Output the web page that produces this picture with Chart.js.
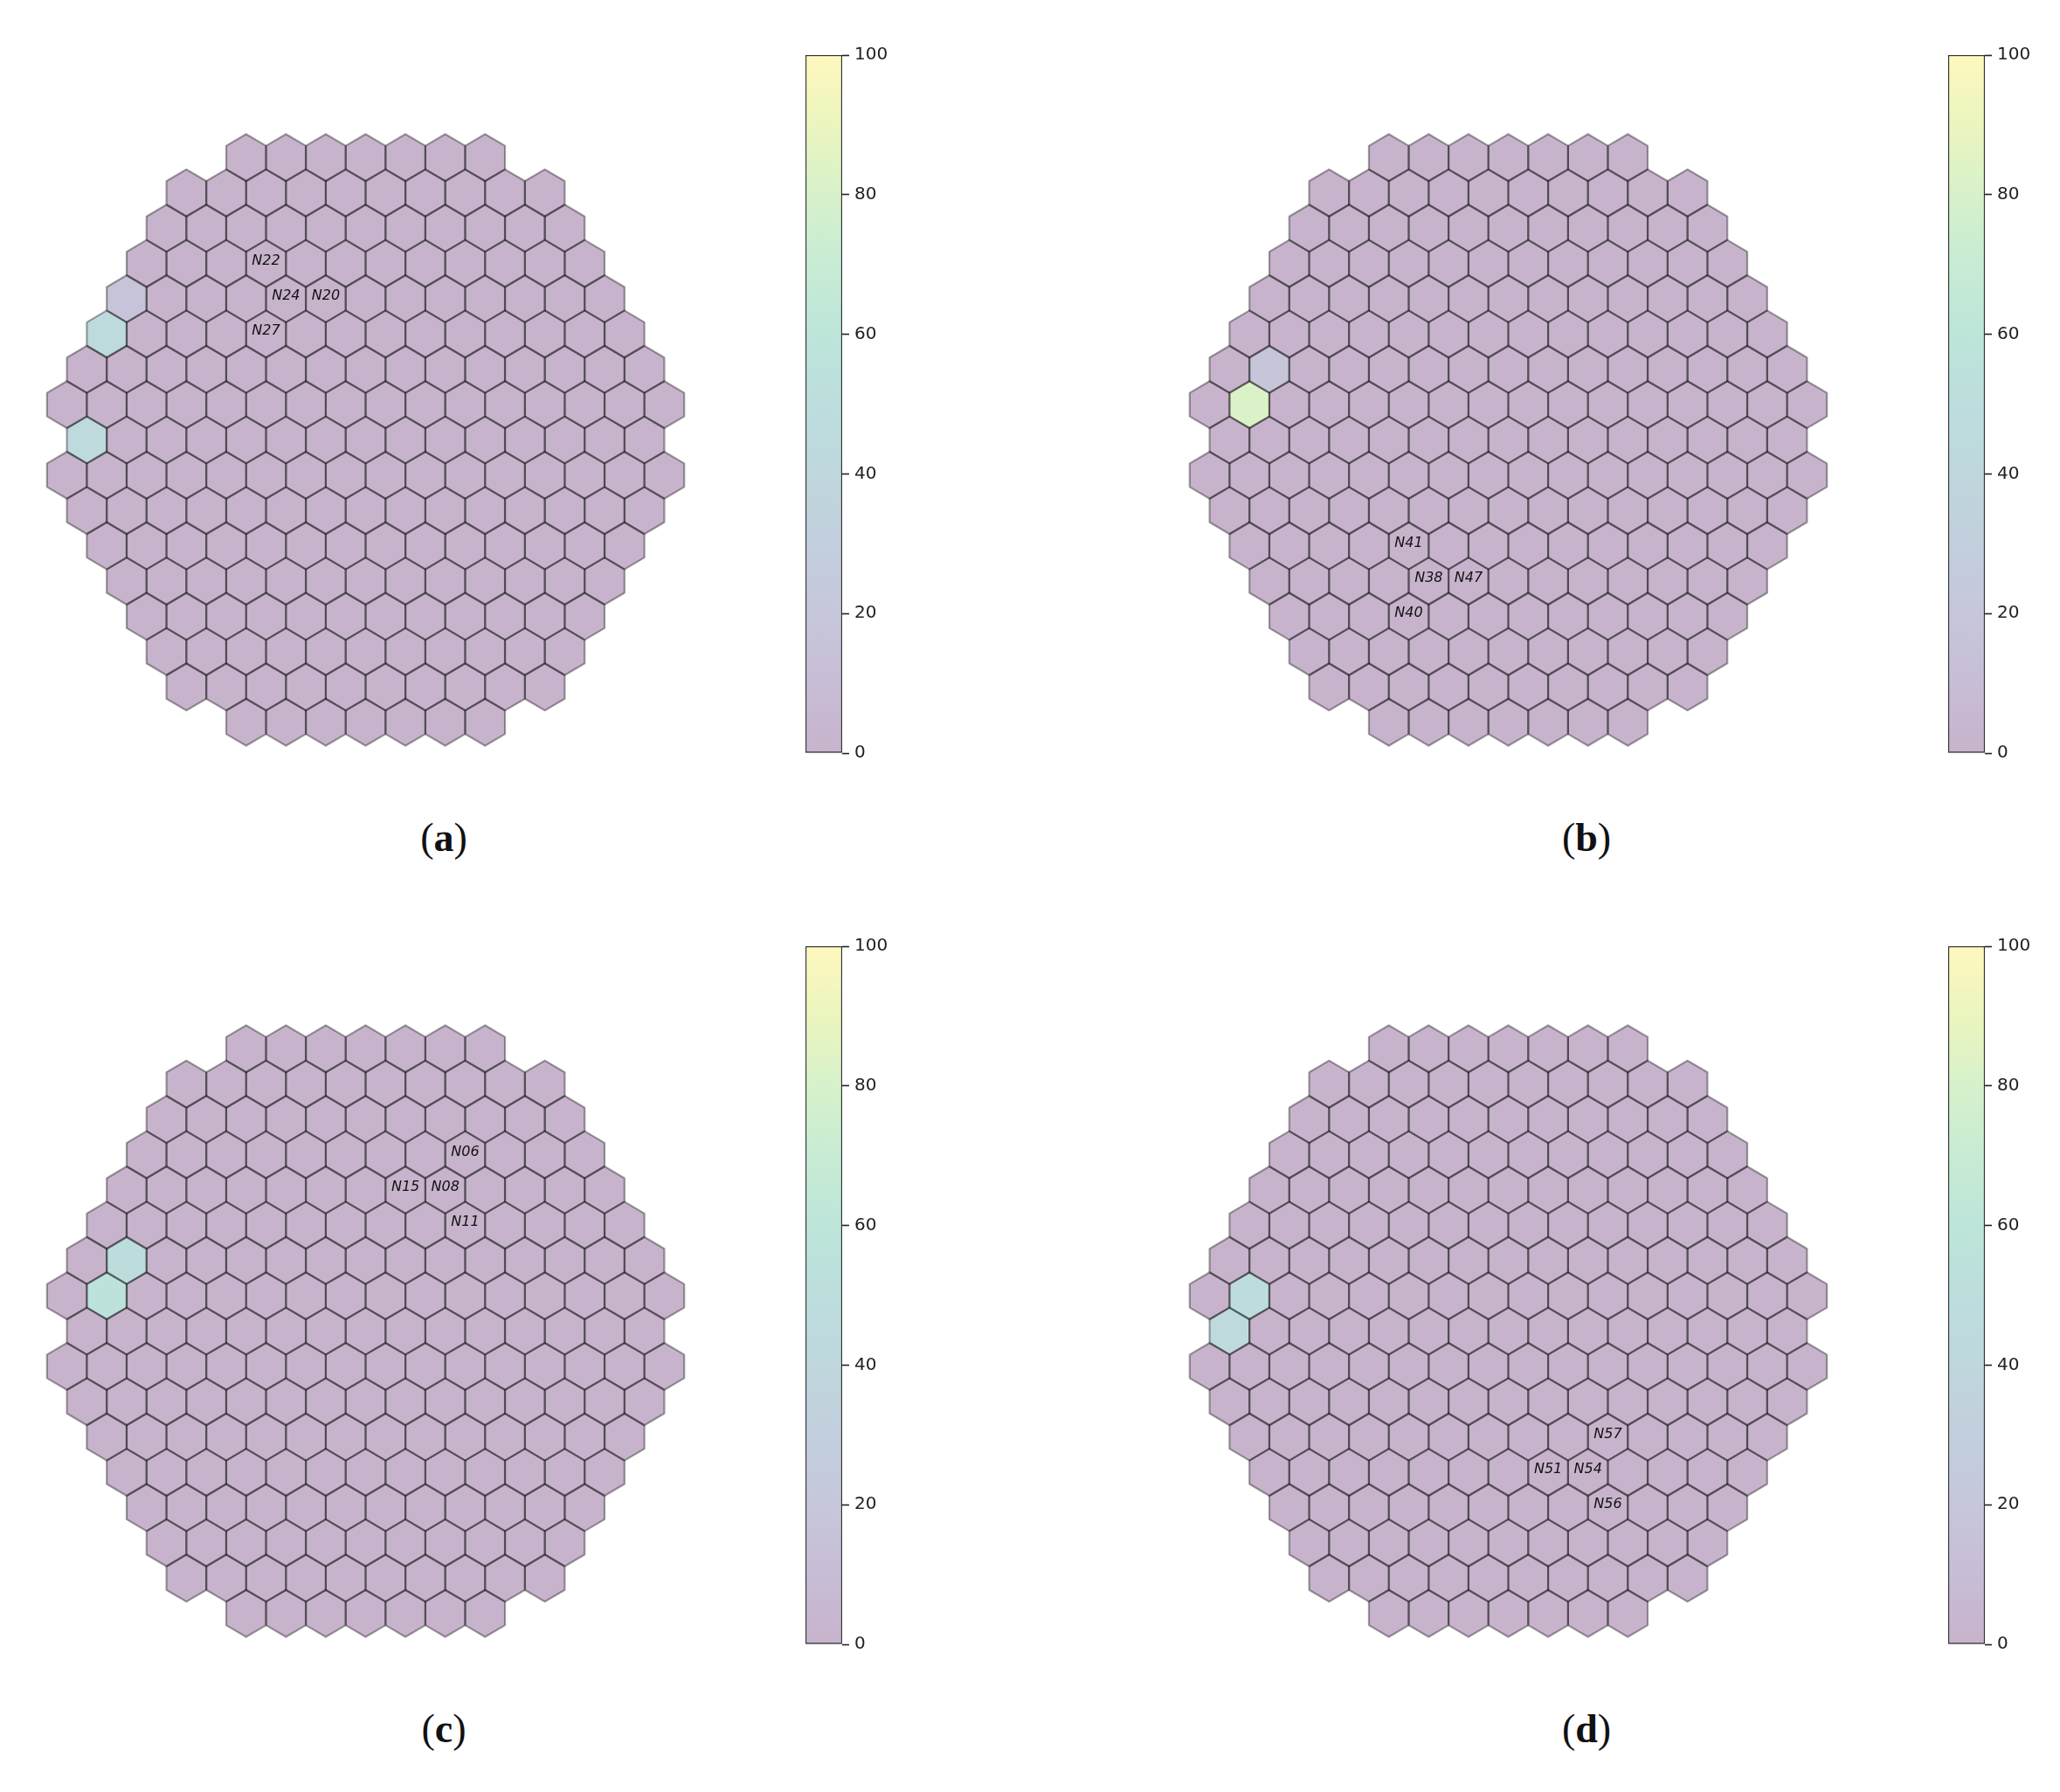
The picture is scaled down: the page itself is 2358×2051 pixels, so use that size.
<!DOCTYPE html>
<html>
<head>
<meta charset="utf-8">
<script src="https://cdn.jsdelivr.net/npm/chart.js@4.4.0/dist/chart.umd.min.js"></script>
<style>
  body { margin: 0; background: #fff; }
  #page { position: relative; width: 2358px; height: 2051px; background: #fff; overflow: hidden; }
  canvas { position: absolute; }
  .cap { position: absolute; width: 200px; margin-left: -100px; text-align: center;
         font-family: "Liberation Serif", "DejaVu Serif", serif; font-size: 46px; line-height: 50px; color: #111; }
</style>
</head>
<body>
<div id="page"></div>
<script>
// hexagons per row, top to bottom
const ROW_SIZES = [7, 10, 11, 12, 13, 14, 15, 16, 15, 16, 15, 14, 13, 12, 11, 10, 7];

// cells that are not at 0 (row, column within row, value)
const hotRowsA = [4, 5, 8];
const hotColsA = [0, 0, 0];
const hotValsA = [17, 46, 45];
const hotRowsB = [6, 7];
const hotColsB = [1, 1];
const hotValsB = [18, 82];
const hotRowsC = [6, 7];
const hotColsC = [1, 1];
const hotValsC = [48, 55];
const hotRowsD = [7, 8];
const hotColsD = [1, 0];
const hotValsD = [47, 45];

// node tags
const tagTextA = ['N22', 'N24', 'N20', 'N27'];
const tagRowsA = [3, 4, 4, 5];
const tagColsA = [3, 4, 5, 4];
const tagTextB = ['N41', 'N38', 'N47', 'N40'];
const tagRowsB = [11, 12, 12, 13];
const tagColsB = [4, 4, 5, 3];
const tagTextC = ['N06', 'N15', 'N08', 'N11'];
const tagRowsC = [3, 4, 4, 5];
const tagColsC = [8, 7, 8, 9];
const tagTextD = ['N57', 'N51', 'N54', 'N56'];
const tagRowsD = [11, 12, 12, 13];
const tagColsD = [9, 7, 8, 8];

const CB_TICKS = [0, 20, 40, 60, 80, 100];
const CAPTIONS = ['a', 'b', 'c', 'd'];

const VIRIDIS = ['#440154', '#482475', '#414487', '#355f8d', '#2a788e', '#21918c',
                 '#22a884', '#44bf70', '#7ad151', '#bddf26', '#fde725'];
const ALPHA = 0.3;

function hexToRgb(h) {
  return [1, 3, 5].map(i => parseInt(h.substr(i, 2), 16));
}
function blend(rgb) {
  const c = rgb.map(v => Math.round(ALPHA * v + (1 - ALPHA) * 255));
  return `rgb(${c[0]},${c[1]},${c[2]})`;
}
function cellColor(v) {
  const t = Math.max(0, Math.min(1, v / 100)) * 10;
  const i = Math.min(9, Math.floor(t));
  const f = t - i;
  const a = hexToRgb(VIRIDIS[i]), b = hexToRgb(VIRIDIS[i + 1]);
  return blend(a.map((x, k) => x + (b[k] - x) * f));
}

// pointy-top hexagon corners in data units (x: one hex width, y: one row)
const HEX_CORNERS = [[0, -2 / 3], [0.5, -1 / 3], [0.5, 1 / 3], [0, 2 / 3], [-0.5, 1 / 3], [-0.5, -1 / 3]];

function colX(row, col) {
  return col - (ROW_SIZES[row] - 1) / 2;
}

function buildCells(rows, cols, vals) {
  const cells = [];
  ROW_SIZES.forEach((n, r) => {
    for (let c = 0; c < n; c++) cells.push({ x: colX(r, c), y: r, v: 0 });
  });
  rows.forEach((r, i) => {
    const cell = cells.find(p => p.y === r && p.x === colX(r, cols[i]));
    if (cell) cell.v = vals[i];
  });
  return cells;
}

function buildTags(texts, rows, cols) {
  return texts.map((t, i) => ({ x: colX(rows[i], cols[i]), y: rows[i], label: t }));
}

const hexPlugin = {
  id: 'hexCells',
  afterDatasetsDraw(chart) {
    const xs = chart.scales.x, ys = chart.scales.y, ctx = chart.ctx;
    const cells = chart.data.datasets[0].data;
    const tags = chart.data.datasets[1].data;
    const path = c => {
      ctx.beginPath();
      HEX_CORNERS.forEach(([dx, dy], i) => {
        const px = xs.getPixelForValue(c.x + dx), py = ys.getPixelForValue(c.y + dy);
        if (i) ctx.lineTo(px, py); else ctx.moveTo(px, py);
      });
      ctx.closePath();
    };
    ctx.save();
    cells.forEach(c => { path(c); ctx.fillStyle = cellColor(c.v); ctx.fill(); });
    ctx.strokeStyle = 'rgba(0,0,0,0.36)';
    ctx.lineWidth = 2.2;
    ctx.lineJoin = 'round';
    cells.forEach(c => { path(c); ctx.stroke(); });
    ctx.fillStyle = '#111';
    ctx.font = 'italic 16px "DejaVu Sans"';
    ctx.textAlign = 'center';
    ctx.textBaseline = 'alphabetic';
    tags.forEach(t => ctx.fillText(t.label, xs.getPixelForValue(t.x), ys.getPixelForValue(t.y) + 1));
    ctx.restore();
  }
};

const page = document.getElementById('page');
function addCanvas(left, top, w, h) {
  const cv = document.createElement('canvas');
  cv.width = w; cv.height = h;
  cv.style.left = left + 'px'; cv.style.top = top + 'px';
  cv.style.width = w + 'px'; cv.style.height = h + 'px';
  page.appendChild(cv);
  return cv;
}

function drawGrid(left, top, cells, tags) {
  const cv = addCanvas(left, top, 775, 727);
  new Chart(cv, {
    type: 'scatter',
    data: {
      datasets: [
        { data: cells, pointRadius: 0, pointHoverRadius: 0 },
        { data: tags, pointRadius: 0, pointHoverRadius: 0 }
      ]
    },
    options: {
      responsive: false, animation: false, devicePixelRatio: 1, events: [],
      plugins: { legend: { display: false }, tooltip: { enabled: false } },
      scales: {
        x: { type: 'linear', display: false, min: -8.5, max: 8.5 },
        y: { type: 'linear', display: false, min: -1, max: 17, reverse: true }
      }
    },
    plugins: [hexPlugin]
  });
}

function drawColorbar(left, top) {
  const cv = addCanvas(left, top - 20, 110, 839);
  new Chart(cv, {
    type: 'bar',
    data: {
      labels: [''],
      datasets: [{
        data: [100],
        backgroundColor: c => {
          const a = c.chart.chartArea;
          if (!a) return null;
          const g = c.chart.ctx.createLinearGradient(0, a.bottom, 0, a.top);
          VIRIDIS.forEach((col, i) => g.addColorStop(i / 10, blend(hexToRgb(col))));
          return g;
        },
        borderColor: '#333',
        borderWidth: 1.5,
        borderSkipped: false,
        barPercentage: 1,
        categoryPercentage: 1
      }]
    },
    options: {
      responsive: false, animation: false, devicePixelRatio: 1, events: [],
      layout: { padding: { top: 20, bottom: 20 } },
      plugins: { legend: { display: false }, tooltip: { enabled: false } },
      scales: {
        x: { display: false },
        y: {
          position: 'right', min: 0, max: 100,
          afterFit: s => { s.width = 68; },
          afterBuildTicks: s => { s.ticks = CB_TICKS.map(v => ({ value: v })); },
          grid: { drawOnChartArea: false, tickLength: 8, color: '#222', tickWidth: 1.6 },
          border: { display: false },
          ticks: { color: '#222', padding: 6, font: { family: 'DejaVu Sans', size: 20 } }
        }
      }
    }
  });
}

function addCaption(letter, cx, cy) {
  const d = document.createElement('div');
  d.className = 'cap';
  d.style.left = cx + 'px';
  d.style.top = (cy - 25) + 'px';
  d.innerHTML = '(<b>' + letter + '</b>)';
  page.appendChild(d);
}

const panels = [
  [hotRowsA, hotColsA, hotValsA, tagTextA, tagRowsA, tagColsA],
  [hotRowsB, hotColsB, hotValsB, tagTextB, tagRowsB, tagColsB],
  [hotRowsC, hotColsC, hotValsC, tagTextC, tagRowsC, tagColsC],
  [hotRowsD, hotColsD, hotValsD, tagTextD, tagRowsD, tagColsD]
];

panels.forEach((p, i) => {
  const dx = (i % 2) * 1308;
  const dy = Math.floor(i / 2) * 1020;
  drawGrid(31 + dx, 140 + dy, buildCells(p[0], p[1], p[2]), buildTags(p[3], p[4], p[5]));
  drawColorbar(922 + dx, 63 + dy);
  addCaption(CAPTIONS[i], 508 + dx, 959 + dy);
});
</script>
</body>
</html>
